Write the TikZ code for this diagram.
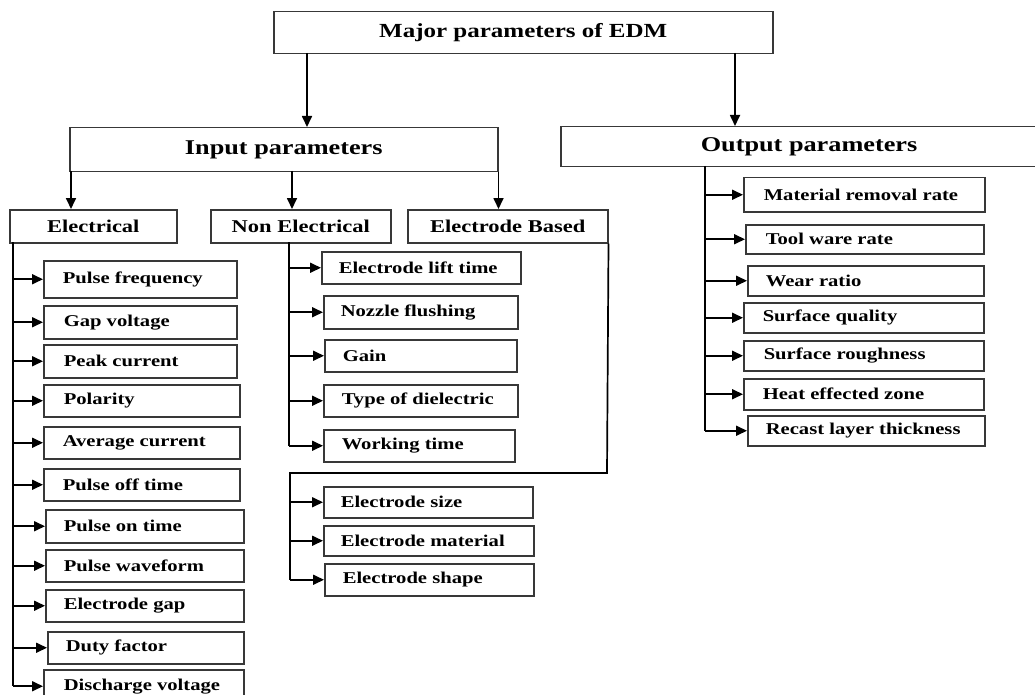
\documentclass[tikz,border=0pt]{standalone}
\usepackage{fontspec}
\setmainfont{Liberation Serif}[FakeStretch=1.25]
\usetikzlibrary{arrows.meta}
\tikzset{
  boxst/.style={draw=black!78, line width=1.5pt, inner sep=0pt, anchor=north west},
  arr/.style={line width=1.7pt, -{Triangle[length=11pt,width=10pt]}},
  spine/.style={line width=1.7pt},
  itemf/.style={font=\fontsize{16.5}{18}\selectfont\bfseries},
  catf/.style={font=\fontsize{18}{20}\selectfont\bfseries},
  headf/.style={font=\fontsize{21}{24}\selectfont\bfseries},
  titlef/.style={font=\fontsize{20}{24}\selectfont\bfseries},
}
% left-aligned box: name, x1, y1, x2, y2, pad, text, style
\newcommand\lbx[8]{\node[boxst,#8, minimum height={#5pt-#3pt}] (#1) at (#2,#3) {\makebox[\dimexpr#4pt-#2pt\relax][l]{\hspace*{#6pt}#7}};}
% centred box: name, x1, y1, x2, y2, text, style
\newcommand\cbx[7]{\node[boxst,#7, minimum height={#5pt-#3pt}] (#1) at (#2,#3) {\makebox[\dimexpr#4pt-#2pt\relax][c]{#6}};}
\begin{document}
\begin{tikzpicture}[x=1pt,y=-1pt]
\useasboundingbox (0,0) rectangle (1035,695);
\fill[white] (0,0) rectangle (1035,695);

% top levels
\cbx{top}{273}{11}{772}{53}{Major parameters of EDM}{titlef}
\cbx{inp}{69}{127}{497}{171}{Input parameters}{headf}
\lbx{outp}{560}{126}{1045}{166}{140}{Output parameters}{headf}
\cbx{elec}{9}{209}{176}{242}{Electrical}{catf}
\cbx{nonel}{210}{209}{390}{242}{Non Electrical}{catf}
\cbx{ebase}{407}{209}{607}{242}{Electrode Based}{catf}

\coordinate (a1) at (307,53);
\coordinate (a2) at (735,53);
\draw[arr] (a1) -- (a1 |- inp.north);
\draw[arr] (a2) -- (a2 |- outp.north);
\coordinate (b1) at (71,171);
\coordinate (b2) at (292,171);
\draw[arr] (b1) -- (b1 |- elec.north);
\draw[arr] (b2) -- (b2 |- nonel.north);
\draw[arr] (inp.south east) -- (ebase.north -| inp.south east);

% electrical items
\lbx{e1}{43}{260}{236}{297}{19}{Pulse frequency}{itemf}
\lbx{e2}{43}{305}{236}{338}{20}{Gap voltage}{itemf}
\lbx{e3}{43}{344}{236}{377}{20}{Peak current}{itemf}
\lbx{e4}{43}{384}{239}{416}{20}{Polarity}{itemf}
\lbx{e5}{43}{426}{239}{458}{19}{Average current}{itemf}
\lbx{e6}{43}{468}{239}{500}{19}{Pulse off time}{itemf}
\lbx{e7}{45}{509}{243}{542}{18}{Pulse on time}{itemf}
\lbx{e8}{45}{549}{243}{581}{18}{Pulse waveform}{itemf}
\lbx{e9}{45}{589}{243}{621}{18}{Electrode gap}{itemf}
\lbx{e10}{47}{631}{243}{663}{18}{Duty factor}{itemf}
\lbx{e11}{43}{669}{243}{702}{20}{Discharge voltage}{itemf}

\coordinate (es) at (13,242);
\draw[spine] (es) -- (es |- e11.west);
\foreach \i in {1,...,11} \draw[arr] (es |- e\i.west) -- (e\i.west);

% non electrical items
\lbx{n1}{321}{251}{520}{283}{17}{Electrode lift time}{itemf}
\lbx{n2}{323}{295}{517}{328}{17}{Nozzle flushing}{itemf}
\lbx{n3}{324}{339}{516}{371}{18}{Gain}{itemf}
\lbx{n4}{323}{384}{517}{416}{18}{Type of dielectric}{itemf}
\lbx{n5}{323}{429}{514}{461}{18}{Working time}{itemf}

\coordinate (ns) at (289,242);
\draw[spine] (ns) -- (ns |- n5.west);
\foreach \i in {1,...,5} \draw[arr] (ns |- n\i.west) -- (n\i.west);

% electrode based items
\lbx{d1}{323}{486}{532}{517}{17}{Electrode size}{itemf}
\lbx{d2}{323}{525}{533}{555}{17}{Electrode material}{itemf}
\lbx{d3}{324}{563}{533}{595}{18}{Electrode shape}{itemf}

\coordinate (dk) at (607,473);
\coordinate (ds) at (290,473);
\draw[spine] (ebase.south east) -- (dk) -- (ds) -- (ds |- d3.west);
\foreach \i in {1,...,3} \draw[arr] (ds |- d\i.west) -- (d\i.west);

% output items
\lbx{o1}{743}{177}{984}{211}{20}{Material removal rate}{itemf}
\lbx{o2}{745}{224}{983}{253}{20}{Tool ware rate}{itemf}
\lbx{o3}{747}{265}{983}{295}{18}{Wear ratio}{itemf}
\lbx{o4}{743}{302}{983}{332}{19}{Surface quality}{itemf}
\lbx{o5}{743}{340}{983}{370}{20}{Surface roughness}{itemf}
\lbx{o6}{743}{378}{983}{409}{19}{Heat effected zone}{itemf}
\lbx{o7}{747}{415}{984}{445}{18}{Recast layer thickness}{itemf}

\coordinate (os) at (705,166);
\draw[spine] (os) -- (os |- o7.west);
\foreach \i in {1,...,7} \draw[arr] (os |- o\i.west) -- (o\i.west);
\end{tikzpicture}
\end{document}
